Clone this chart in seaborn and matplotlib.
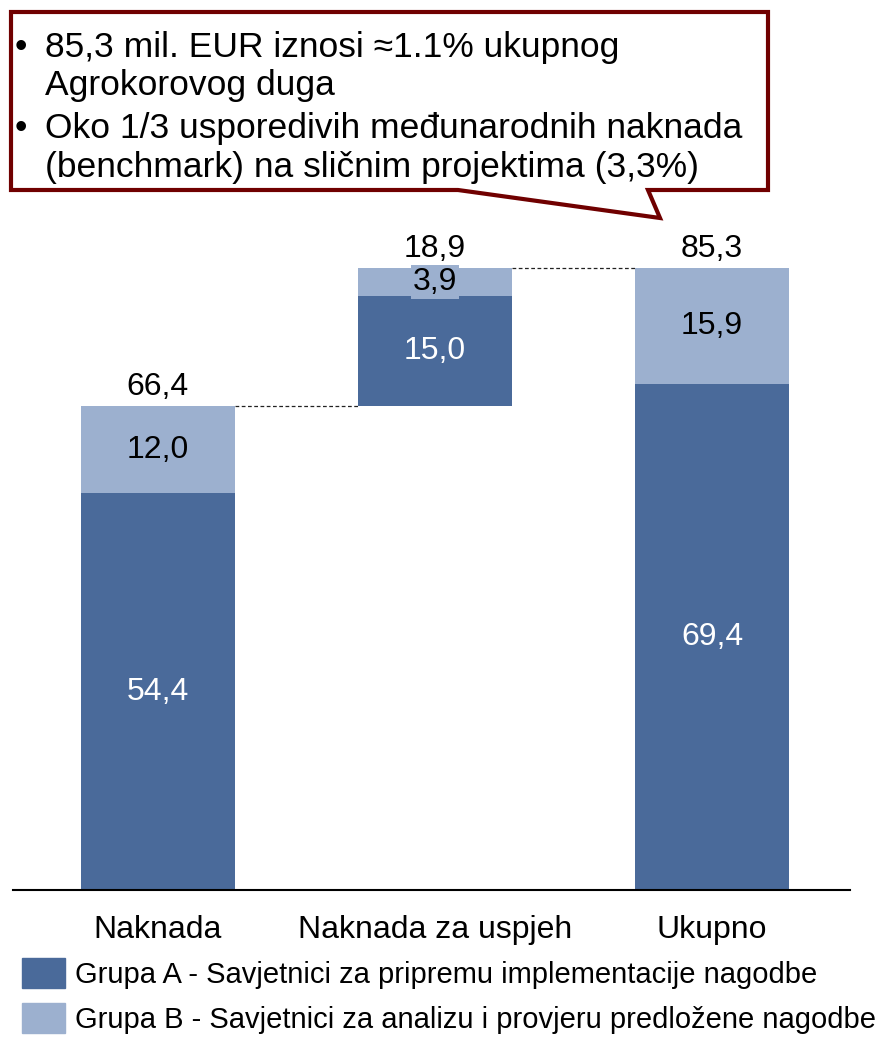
import matplotlib
matplotlib.use("Agg")
import matplotlib.pyplot as plt
import matplotlib.patches as mpatches
import seaborn as sns

# Podaci (mil. EUR)
categories = ["Naknada", "Naknada za uspjeh", "Ukupno"]
group_a = [54.4, 15.0, 69.4]
group_b = [12.0, 3.9, 15.9]
base = [0.0, 66.4, 0.0]
legend_labels = ["Grupa A - Savjetnici za pripremu implementacije nagodbe",
                 "Grupa B - Savjetnici za analizu i provjeru predložene nagodbe"]
callout_lines = ["85,3 mil. EUR iznosi ≈1.1% ukupnog",
                 "Agrokorovog duga",
                 "Oko 1/3 usporedivih međunarodnih naknada",
                 "(benchmark) na sličnim projektima (3,3%)"]

dark = "#4A6A9A"
light = "#9CB0CF"
border = "#700000"

sns.set_theme(style="white")
plt.rcParams["font.family"] = ["Liberation Sans", "DejaVu Sans"]
plt.rcParams["text.color"] = "black"

W, H = 889, 1040
fig = plt.figure(figsize=(W / 100, H / 100), dpi=100)
ax = fig.add_axes([13 / W, 1 - 890 / H, (850 - 13) / W, (890 - 230) / H])

bar_w = 0.553
mid = [b + a for b, a in zip(base, group_a)]
tops = [m + g for m, g in zip(mid, group_b)]

sns.barplot(x=categories, y=group_a, bottom=base, color=dark, width=bar_w,
            saturation=1, errorbar=None, linewidth=0, label=legend_labels[0],
            legend=False, ax=ax)
sns.barplot(x=categories, y=group_b, bottom=mid, color=light, width=bar_w,
            saturation=1, errorbar=None, linewidth=0, label=legend_labels[1],
            legend=False, ax=ax)
if ax.get_legend() is not None:
    ax.get_legend().remove()

ax.set_xlim(-0.523, 2.498)
ax.set_ylim(0, 90.5)


def fmt(v):
    return f"{v:.1f}".replace(".", ",")


val_fs = 23
for i in range(len(categories)):
    ax.text(i, base[i] + group_a[i] / 2, fmt(group_a[i]), ha="center", va="center",
            color="white", fontsize=val_fs)
    kw = {}
    if group_b[i] < 5:
        kw["bbox"] = dict(facecolor=light, edgecolor="none", pad=1.5)
    ax.text(i, mid[i] + group_b[i] / 2, fmt(group_b[i]), ha="center", va="center",
            color="black", fontsize=val_fs, **kw)
    ax.annotate(fmt(tops[i] - base[i]), (i, tops[i]), xytext=(0, 3),
                textcoords="offset points", ha="center", va="bottom",
                fontsize=val_fs, color="black")

# spojne isprekidane linije
half = bar_w / 2
for i in range(len(categories) - 1):
    ax.plot([i + half, i + 1 - half], [tops[i], tops[i]], color="#222222",
            lw=0.9, ls=(0, (3, 2)))

sns.despine(ax=ax, left=True, top=True, right=True)
ax.spines["bottom"].set_color("black")
ax.spines["bottom"].set_linewidth(1.5)
ax.set_yticks([])
ax.tick_params(axis="x", length=0, pad=18, labelsize=23, colors="black")
ax.set_xlabel("")
ax.set_ylabel("")

handles = [mpatches.Patch(color=dark), mpatches.Patch(color=light)]
leg = fig.legend(handles, legend_labels, loc="upper left",
                 bbox_to_anchor=(22 / W, 1 - 958 / H),
                 frameon=False, fontsize=21, handlelength=1.48, handleheight=1.2,
                 handletextpad=0.35, labelspacing=0.5, borderpad=0, borderaxespad=0)
for t in leg.get_texts():
    t.set_color("black")

# oblačić s komentarom
px = lambda x, y: (x / W, 1 - y / H)
pts = [px(11, 12), px(768, 12), px(768, 190), px(648, 190), px(660, 218),
       px(458, 190), px(11, 190)]
fig.add_artist(mpatches.Polygon(pts, closed=True, facecolor="white",
                                edgecolor=border, lw=3, joinstyle="miter",
                                transform=fig.transFigure))
baselines = [57, 95, 138, 177]
for k, (line, yb) in enumerate(zip(callout_lines, baselines)):
    if k in (0, 2):
        fig.text(*px(15, yb), "•", fontsize=25.5, va="baseline", ha="left",
                 color="black")
    fig.text(*px(45, yb), line, fontsize=25.5, va="baseline", ha="left",
             color="black")

fig.savefig("out.png", dpi=100)
